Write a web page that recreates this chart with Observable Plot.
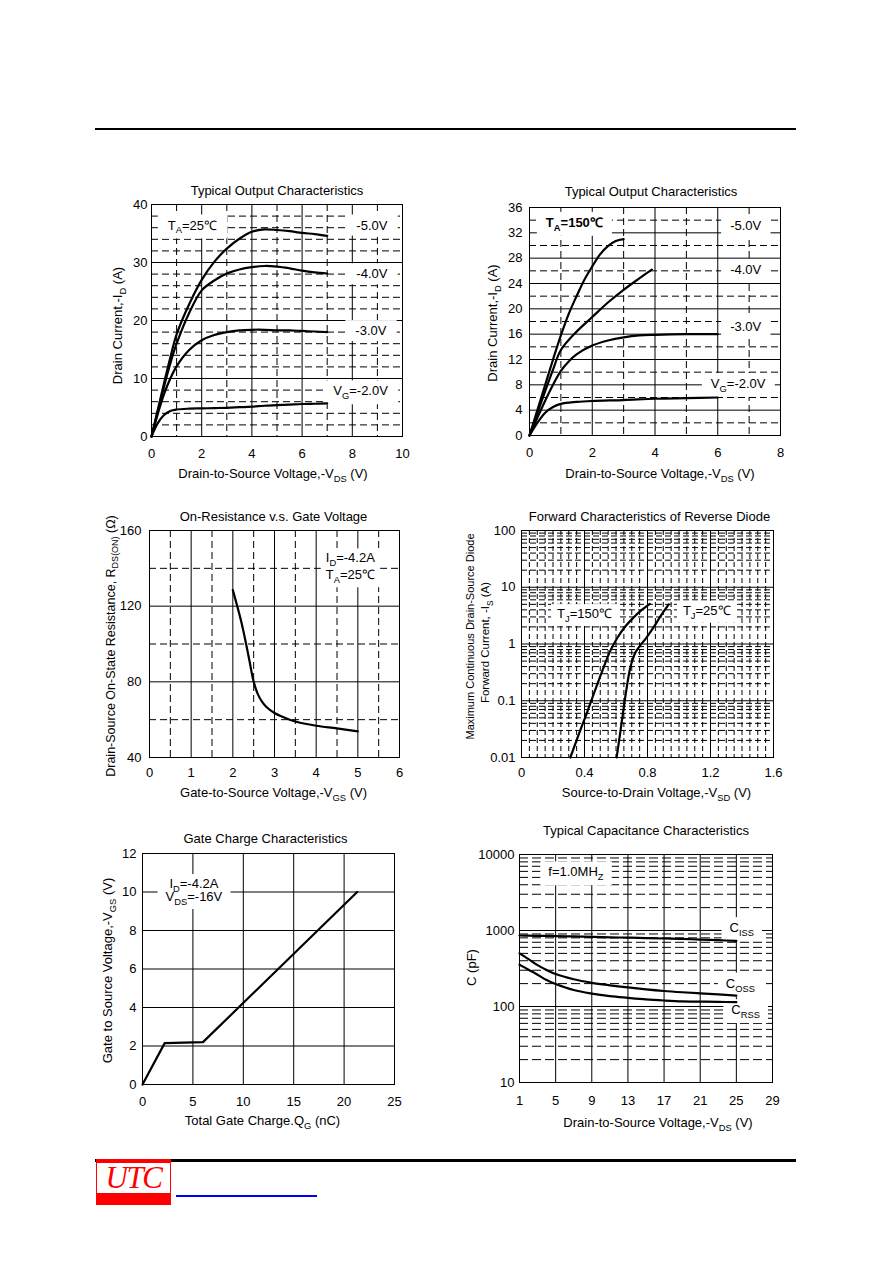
<!DOCTYPE html>
<html><head><meta charset="utf-8">
<script src="https://cdn.jsdelivr.net/npm/d3@7"></script>
<script src="https://cdn.jsdelivr.net/npm/@observablehq/plot@0.6"></script>
<style>
html,body{margin:0;padding:0;background:#fff;}
#page{position:relative;width:892px;height:1263px;overflow:hidden;background:#fff;font-family:"Liberation Sans",Arial,sans-serif;}
.chart{position:absolute;}
.chart svg{overflow:visible;}
.bar{position:absolute;background:#000;}
</style></head><body><div id="page"></div>
<script>
// ---------- DATA ----------
// Chart 1: Typical Output Characteristics, TA=25C
const vds25 = [0, 0.25, 0.5, 0.75, 1, 1.5, 2, 2.5, 3, 3.5, 4, 4.5, 5, 5.5, 6, 6.5, 7];
const id25Vg5 = [0, 4.6, 9.2, 13.6, 17.6, 22.8, 27.0, 30.1, 32.4, 34.1, 35.3, 35.7, 35.6, 35.4, 35.1, 34.9, 34.6];
const id25Vg4 = [0, 4.3, 8.6, 12.6, 16.0, 21.3, 25.2, 26.9, 28.1, 28.8, 29.2, 29.4, 29.3, 29.0, 28.6, 28.3, 28.1];
const id25Vg3 = [0, 3.9, 7.3, 10.0, 12.1, 14.9, 16.6, 17.5, 18.0, 18.3, 18.4, 18.4, 18.3, 18.3, 18.2, 18.1, 18.0];
const id25Vg2 = [0, 2.3, 3.7, 4.4, 4.65, 4.8, 4.85, 4.9, 4.95, 5.05, 5.15, 5.3, 5.4, 5.5, 5.6, 5.65, 5.7];
const c1XTicks = [0, 2, 4, 6, 8, 10];
const c1YTicks = [0, 10, 20, 30, 40];
const c1Labels = [
  {x: 1.63, y: 36.4, text: "T_{A}=25℃"},
  {x: 8.78, y: 36.4, text: "-5.0V"},
  {x: 8.78, y: 28.0, text: "-4.0V"},
  {x: 8.74, y: 18.2, text: "-3.0V"},
  {x: 8.33, y: 7.8, text: "V_{G}=-2.0V"}
];

// Chart 2: Typical Output Characteristics, TA=150C
const vds150Vg5 = [0, 0.25, 0.5, 0.75, 1, 1.25, 1.5, 1.75, 2, 2.25, 2.5, 2.75, 3];
const id150Vg5 = [0, 4, 8, 12, 15.8, 19.2, 22, 24.6, 26.7, 28.6, 29.9, 30.7, 31.0];
const vds150Vg4 = [0, 0.25, 0.5, 0.75, 1, 1.5, 2, 2.5, 3, 3.5, 3.9];
const id150Vg4 = [0, 3.5, 7, 10.4, 13.5, 16.4, 18.7, 21.0, 23.0, 24.8, 26.2];
const vds150Vg3 = [0, 0.25, 0.5, 0.75, 1, 1.25, 1.5, 2, 2.5, 3, 3.5, 4, 5, 6];
const id150Vg3 = [0, 2.8, 5.5, 8.0, 10.2, 11.7, 12.8, 14.2, 15.0, 15.5, 15.8, 15.9, 16.0, 16.0];
const vds150Vg2 = [0, 0.25, 0.5, 0.75, 1, 1.5, 2, 3, 4, 5, 6];
const id150Vg2 = [0, 2.0, 3.6, 4.5, 5.0, 5.3, 5.45, 5.6, 5.8, 5.9, 6.0];
const c2XTicks = [0, 2, 4, 6, 8];
const c2YTicks = [0, 4, 8, 12, 16, 20, 24, 28, 32, 36];
const c2TempLabel = [{x: 1.43, y: 33.6, text: "T_{A}=150℃"}];
const c2Labels = [
  {x: 6.89, y: 33.1, text: "-5.0V"},
  {x: 6.89, y: 26.1, text: "-4.0V"},
  {x: 6.89, y: 17.1, text: "-3.0V"},
  {x: 6.65, y: 8.15, text: "V_{G}=-2.0V"}
];

// Chart 3: On-Resistance vs Gate Voltage
const vgs3 = [2.0, 2.1, 2.2, 2.3, 2.4, 2.5, 2.6, 2.7, 2.8, 3.0, 3.25, 3.5, 4.0, 4.5, 5.0];
const rds3 = [128.5, 120.5, 112, 102, 91, 80, 73.5, 69.5, 66.8, 63.5, 61.0, 59.0, 56.8, 55.4, 53.8];
const c3XTicks = [0, 1, 2, 3, 4, 5, 6];
const c3YTicks = [40, 80, 120, 160];
const c3Labels = [{x: 4.82, y: 141.5, text: "I_{D}=-4.2A\nT_{A}=25℃"}];

// Chart 4: Forward Characteristics of Reverse Diode
const vsd150 = [0.31, 0.36, 0.41, 0.46, 0.51, 0.56, 0.61, 0.66, 0.71, 0.76, 0.815];
const is150 = [0.01, 0.024, 0.056, 0.135, 0.32, 0.72, 1.3, 2.05, 2.9, 3.9, 5.1];
const vsd25 = [0.604, 0.625, 0.645, 0.665, 0.688, 0.715, 0.75, 0.79, 0.835, 0.885, 0.935];
const is25 = [0.01, 0.025, 0.063, 0.151, 0.355, 0.631, 0.912, 1.26, 1.9, 3.16, 5.0];
const c4XTicks = [0, 0.4, 0.8, 1.2, 1.6];
const c4YTicks = [0.01, 0.1, 1, 10, 100];
const c4Labels = [
  {x: 0.40, y: 3.39, text: "T_{J}=150℃"},
  {x: 1.176, y: 3.87, text: "T_{J}=25℃"}
];

// Chart 5: Gate Charge Characteristics
const qg5 = [0, 2.2, 6.0, 21.3];
const vgs5 = [0, 2.15, 2.2, 10.0];
const c5XTicks = [0, 5, 10, 15, 20, 25];
const c5YTicks = [0, 2, 4, 6, 8, 10, 12];
const c5Labels = [{x: 5.1, y: 10.08, text: "I_{D}=-4.2A\nV_{DS}=-16V"}];

// Chart 6: Typical Capacitance Characteristics
const vds6 = [1, 2, 3, 4, 5, 7, 9, 11, 13, 15, 17, 19, 21, 23, 25];
const ciss = [860, 855, 850, 848, 845, 835, 822, 812, 805, 795, 785, 775, 760, 745, 730];
const coss = [500, 420, 350, 302, 267, 228, 205, 190, 178, 168, 160, 154, 149, 144, 139];
const crss = [355, 305, 262, 223, 198, 165, 148, 137, 130, 124, 120, 117, 116, 115, 114];
const c6XTicks = [1, 5, 9, 13, 17, 21, 25, 29];
const c6YTicks = [10, 100, 1000, 10000];
const c6Labels = [
  {x: 7.24, y: 5850, text: "f=1.0MH_{Z}"},
  {x: 25.6, y: 1080, text: "C_{ISS}"},
  {x: 25.45, y: 201, text: "C_{OSS}"},
  {x: 26.03, y: 90, text: "C_{RSS}"}
];

// ---------- HELPERS ----------
const FONT = '"Liberation Sans", Arial, Helvetica, sans-serif';
const page = document.getElementById("page");
const svgns = "http://www.w3.org/2000/svg";
const M = {l: 70, r: 30, t: 40, b: 55};

function rows(xs, ys, key) { return xs.map((x, i) => ({x, y: ys[i], s: key})); }

function subify(svg) {
  const els = Array.from(svg.querySelectorAll("text, tspan"));
  for (const el of els) {
    if (el.children.length) continue;
    const s = el.textContent;
    if (!s.includes("_{")) continue;
    const fs = parseFloat(getComputedStyle(el).fontSize) || 13;
    const shift = fs * 0.3;
    el.textContent = "";
    const parts = s.split(/_\{([^}]*)\}/);
    let cur = 0;
    parts.forEach((p, i) => {
      if (p === "") return;
      const t = document.createElementNS(svgns, "tspan");
      t.textContent = p;
      const target = (i % 2) ? shift : 0;
      if (target !== cur) t.setAttribute("dy", target - cur);
      cur = target;
      if (i % 2) t.setAttribute("font-size", (fs * 0.72).toFixed(2));
      el.appendChild(t);
    });
  }
}

function boxify(svg) {
  svg.querySelectorAll('g[aria-description^="boxed"]').forEach(g => {
    const [, px, py] = g.getAttribute("aria-description").split(" ").map(Number);
    Array.from(g.children).filter(c => c.tagName === "text").forEach(t => {
      const b = t.getBBox();
      const r = document.createElementNS(svgns, "rect");
      r.setAttribute("x", b.x - px);
      r.setAttribute("y", b.y - py);
      r.setAttribute("width", b.width + 2 * px);
      r.setAttribute("height", b.height + 2 * py);
      r.setAttribute("fill", "white");
      r.setAttribute("stroke", "none");
      const tr = t.getAttribute("transform");
      if (tr) r.setAttribute("transform", tr);
      g.insertBefore(r, t);
    });
  });
}

function chart({frame, x, y, marks}) {
  const [fl, ft, fr, fb] = frame;
  const svg = Plot.plot({
    width: fr - fl + M.l + M.r,
    height: fb - ft + M.t + M.b,
    marginLeft: M.l, marginRight: M.r, marginTop: M.t, marginBottom: M.b,
    style: {fontFamily: FONT, fontSize: "13px", color: "black", background: "transparent", overflow: "visible"},
    x: {tickSize: 0, tickFormat: d => String(d), label: null, ...x},
    y: {tickSize: 0, tickFormat: d => String(d), label: null, ...y},
    marks
  });
  const wrap = document.createElement("div");
  wrap.className = "chart";
  wrap.style.left = (fl - M.l) + "px";
  wrap.style.top = (ft - M.t) + "px";
  wrap.appendChild(svg);
  page.appendChild(wrap);
  subify(svg);
  boxify(svg);
  return svg;
}

const solidX = v => Plot.ruleX(v, {stroke: "black", strokeWidth: 1});
const solidY = v => Plot.ruleY(v, {stroke: "black", strokeWidth: 1});
const dashX = (v, d) => Plot.ruleX(v, {stroke: "black", strokeWidth: 1, strokeDasharray: d});
const dashY = (v, d) => Plot.ruleY(v, {stroke: "black", strokeWidth: 1, strokeDasharray: d});
const curves = (data, curve) => Plot.line(data, {x: "x", y: "y", z: "s", stroke: "black", strokeWidth: 2.2, curve});
const notes = (data, px, py, extra = {}) => Plot.text(data, {x: "x", y: "y", text: "text", fontSize: 13, fill: "black", ariaDescription: `boxed ${px} ${py}`, ...extra});
const cap = (s, frameAnchor, dx, dy, fontSize = 13, rotate = 0) =>
  Plot.text([s], {frameAnchor, dx, dy, fontSize, rotate, fill: "black", textAnchor: "middle", lineAnchor: "middle"});
function captions({title, tdx = 0, tdy, xl, xdx = 0, xdy, yl, ydx, ydy = 0, yfs = 13}) {
  return [
    cap(title, "top", tdx, tdy),
    cap(xl, "bottom", xdx, xdy),
    ...(yl ? [cap(yl, "left", ydx, ydy, yfs, -90)] : [])
  ];
}
const frameMark = () => Plot.frame({stroke: "black", strokeWidth: 1});

// ---------- PAGE RULES ----------
function bar(l, t, w, h, color) {
  const d = document.createElement("div");
  d.className = "bar";
  Object.assign(d.style, {left: l + "px", top: t + "px", width: w + "px", height: h + "px"});
  if (color) d.style.background = color;
  page.appendChild(d);
  return d;
}
bar(95, 128, 701, 2);
bar(95, 1159, 701, 3);
const logo = bar(96, 1159, 75, 46, "#ff0000");
const inner = document.createElement("div");
Object.assign(inner.style, {position: "absolute", left: "1px", top: "4px", width: "73px", height: "30px", background: "#fff"});
const utc = document.createElement("div");
utc.textContent = "UTC";
Object.assign(utc.style, {position: "absolute", left: "0", top: "0", width: "73px", textAlign: "center", fontFamily: '"Liberation Serif", "Times New Roman", serif', fontStyle: "italic", fontSize: "31px", lineHeight: "30px", letterSpacing: "-1.5px", color: "#ff0000"});
inner.appendChild(utc);
logo.appendChild(inner);
bar(176, 1195, 141, 2, "#0000ff");

// ---------- CHART 1 ----------
chart({
  frame: [151, 204, 402, 436],
  x: {domain: [0, 10], ticks: c1XTicks, tickPadding: 12},
  y: {domain: [0, 40], ticks: c1YTicks, tickPadding: 4},
  marks: [
    dashX([1, 3, 5, 7, 9], "7,4"),
    dashY([2, 4, 6, 8, 12, 14, 16, 18, 22, 24, 26, 28, 32, 34, 36, 38], "7,4"),
    solidX([2, 4, 6, 8]), solidY([10, 20, 30]),
    notes(c1Labels, 10, 3),
    curves([...rows(vds25, id25Vg5, "-5"), ...rows(vds25, id25Vg4, "-4"), ...rows(vds25, id25Vg3, "-3"), ...rows(vds25, id25Vg2, "-2")], "catmull-rom"),
    frameMark(),
    ...captions({title: "Typical Output Characteristics", tdy: -14, xl: "Drain-to-Source Voltage,-V_{DS} (V)", xdx: -4, xdy: 37, yl: "Drain Current,-I_{D} (A)", ydx: -34, ydy: 5})
  ]
});

// ---------- CHART 2 ----------
chart({
  frame: [529, 207, 780, 435],
  x: {domain: [0, 8], ticks: c2XTicks, tickPadding: 12},
  y: {domain: [0, 36], ticks: c2YTicks, tickPadding: 7},
  marks: [
    dashX([1, 3, 5, 7], "7,4"),
    dashY([2, 6, 10, 14, 18, 22, 26, 30, 34], "7,4"),
    solidX([2, 4, 6]), solidY([4, 8, 12, 16, 20, 24, 28, 32]),
    notes(c2TempLabel, 9, 3, {fontWeight: "bold"}),
    notes(c2Labels, 9, 3),
    curves([...rows(vds150Vg5, id150Vg5, "-5"), ...rows(vds150Vg4, id150Vg4, "-4"), ...rows(vds150Vg3, id150Vg3, "-3"), ...rows(vds150Vg2, id150Vg2, "-2")], "catmull-rom"),
    frameMark(),
    ...captions({title: "Typical Output Characteristics", tdx: -4, tdy: -16, xl: "Drain-to-Source Voltage,-V_{DS} (V)", xdx: 5, xdy: 38, yl: "Drain Current,-I_{D} (A)", ydx: -37, ydy: 1.5})
  ]
});

// ---------- CHART 3 ----------
chart({
  frame: [149, 530, 399, 757],
  x: {domain: [0, 6], ticks: c3XTicks, tickPadding: 10},
  y: {domain: [40, 160], ticks: c3YTicks, tickPadding: 8},
  marks: [
    dashX([0.5, 1.5, 2.5, 3.5, 4.5, 5.5], "7,4"),
    dashY([60, 100, 140], "7,4"),
    solidX([1, 2, 3, 4, 5]), solidY([80, 120]),
    notes(c3Labels, 5, 2, {lineHeight: 1.3}),
    curves(rows(vgs3, rds3, "r"), "catmull-rom"),
    frameMark(),
    ...captions({title: "On-Resistance v.s. Gate Voltage", tdx: -1, tdy: -13.5, xl: "Gate-to-Source Voltage,-V_{GS} (V)", xdx: -1, xdy: 35, yl: "Drain-Source On-State Resistance, R_{DS(ON)} (Ω)", ydx: -39, ydy: 2, yfs: 12.5})
  ]
});

// ---------- CHART 4 ----------
const c4MinorX = d3.range(1, 32).filter(i => i % 8 !== 0).map(i => i * 0.05);
const c4MinorY = [0.01, 0.1, 1, 10].flatMap(d => [2, 3, 4, 5, 6, 7, 8, 9].map(k => k * d));
chart({
  frame: [521, 530, 773, 757],
  x: {domain: [0, 1.6], ticks: c4XTicks, tickPadding: 10},
  y: {type: "log", domain: [0.01, 100], ticks: c4YTicks, tickPadding: 6},
  marks: [
    dashX(c4MinorX, "5,3"),
    dashY(c4MinorY, "6,3"),
    solidX([0.4, 0.8, 1.2]), solidY([0.1, 1, 10]),
    notes(c4Labels, 6, 2),
    curves([...rows(vsd150, is150, "150"), ...rows(vsd25, is25, "25")], "monotone-x"),
    frameMark(),
    ...captions({title: "Forward Characteristics of Reverse Diode", tdx: 2, tdy: -13.5, xl: "Source-to-Drain Voltage,-V_{SD} (V)", xdx: 9, xdy: 35}),
    cap("Maximum Continuous Drain-Source Diode", "left", -50.7, -7.5, 11, -90),
    cap("Forward Current, -I_{S} (A)", "left", -35.7, -1.5, 11.5, -90)
  ]
});

// ---------- CHART 5 ----------
chart({
  frame: [142, 853, 394, 1084],
  x: {domain: [0, 25], ticks: c5XTicks, tickPadding: 12.5},
  y: {domain: [0, 12], ticks: c5YTicks, tickPadding: 6},
  marks: [
    solidX([5, 10, 15, 20]), solidY([2, 4, 6, 8, 10]),
    notes(c5Labels, 8, 2, {lineHeight: 1.0}),
    curves(rows(qg5, vgs5, "q"), "linear"),
    frameMark(),
    ...captions({title: "Gate Charge Characteristics", tdx: -3, tdy: -15, xl: "Total Gate Charge.Q_{G} (nC)", xdx: -6, xdy: 36, yl: "Gate to Source Voltage,-V_{GS} (V)", ydx: -35, ydy: 1.5})
  ]
});

// ---------- CHART 6 ----------
const c6MinorY = [10, 100, 1000].flatMap(d => [2, 3, 4, 5, 6, 7, 8, 9].map(k => k * d));
chart({
  frame: [519, 854, 772, 1082],
  x: {domain: [1, 29], ticks: c6XTicks, tickPadding: 13},
  y: {type: "log", domain: [10, 10000], ticks: c6YTicks, tickPadding: 5},
  marks: [
    dashY(c6MinorY, "9,4"),
    solidX([5, 9, 13, 17, 21, 25]), solidY([100, 1000]),
    notes(c6Labels, 8, 3),
    curves([...rows(vds6, ciss, "iss"), ...rows(vds6, coss, "oss"), ...rows(vds6, crss, "rss")], "catmull-rom"),
    frameMark(),
    ...captions({title: "Typical Capacitance Characteristics", tdy: -24, xl: "Drain-to-Source Voltage,-V_{DS} (V)", xdx: 12, xdy: 40, yl: "C (pF)", ydx: -48, ydy: -1})
  ]
});
</script></body></html>
